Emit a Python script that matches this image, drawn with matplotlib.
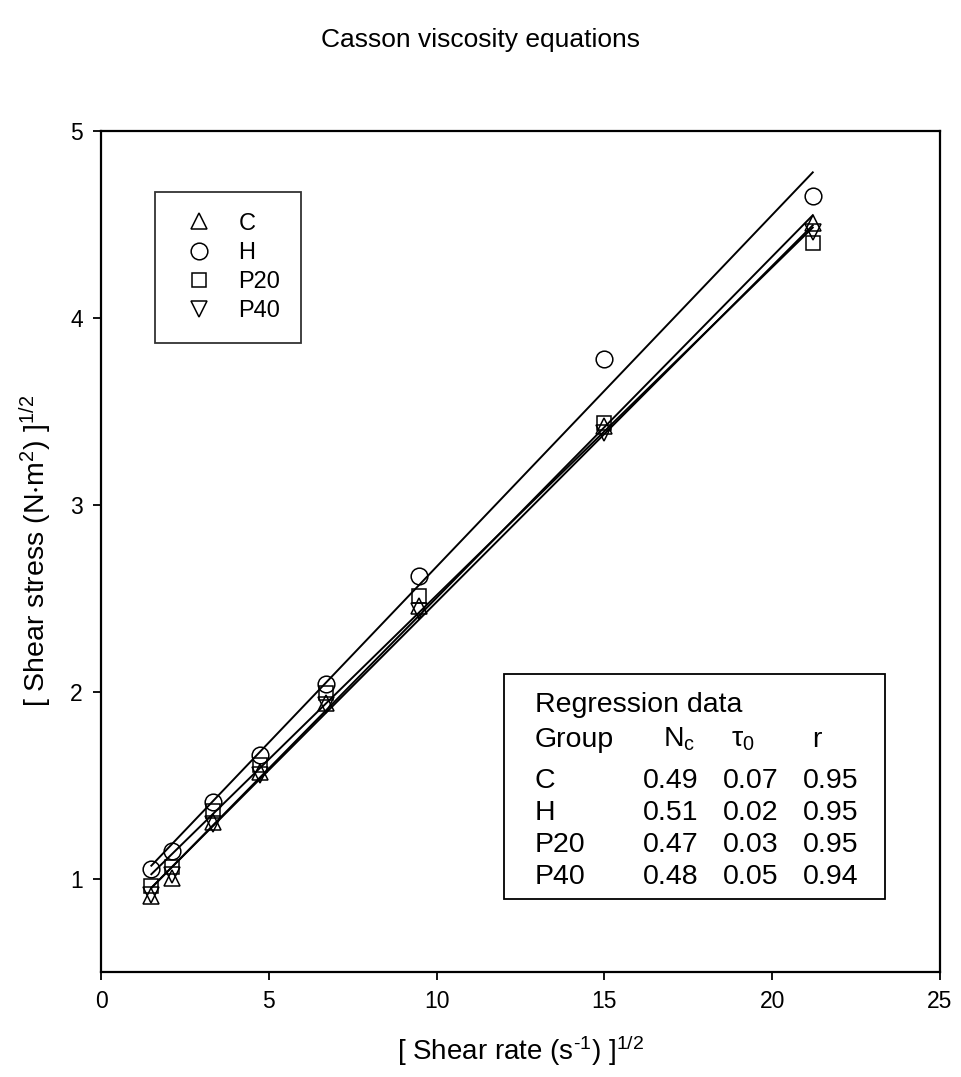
import numpy as np
import matplotlib
matplotlib.use("Agg")
import matplotlib.pyplot as plt
from matplotlib.patches import Rectangle

plt.rcParams['font.family'] = ['Liberation Sans', 'DejaVu Sans']
plt.rcParams['mathtext.fontset'] = 'custom'
plt.rcParams['mathtext.rm'] = 'Liberation Sans'
plt.rcParams['mathtext.it'] = 'Liberation Sans'
plt.rcParams['mathtext.default'] = 'regular'

# ---- data ----
shear_rate_sqrt = [1.5, 2.12, 3.35, 4.74, 6.71, 9.49, 15.0, 21.21]
groups = ["C", "H", "P20", "P40"]
stress_C = [0.905, 1.005, 1.305, 1.57, 1.94, 2.46, 3.42, 4.51]
stress_H = [1.05, 1.15, 1.41, 1.66, 2.04, 2.62, 3.78, 4.65]
stress_P20 = [0.96, 1.06, 1.36, 1.61, 1.995, 2.51, 3.44, 4.40]
stress_P40 = [0.91, 1.02, 1.29, 1.555, 1.93, 2.43, 3.385, 4.46]

table_Nc = ["0.49", "0.51", "0.47", "0.48"]
table_tau0 = ["0.07", "0.02", "0.03", "0.05"]
table_r = ["0.95", "0.95", "0.95", "0.94"]

x_ticks = [0, 5, 10, 15, 20, 25]
y_ticks = [1, 2, 3, 4, 5]

series = [stress_C, stress_H, stress_P20, stress_P40]
markers = ['^', 'o', 's', 'v']
msizes = [12, 12, 10, 12]

fig = plt.figure(figsize=(9.61, 10.77), dpi=100)
ax = fig.add_axes([0.1051, 0.0975, 0.8730, 0.7809])

x = np.array(shear_rate_sqrt)
handles = []
for ys, mk, ms, g in zip(series, markers, msizes, groups):
    ys = np.array(ys)
    k, b = np.polyfit(x, ys, 1)
    xl = np.array([x.min(), x.max()])
    ax.plot(xl, k * xl + b, color='black', lw=1.4, zorder=2)
    h, = ax.plot(x, ys, linestyle='none', marker=mk, markersize=ms,
                 markerfacecolor='none', markeredgecolor='black',
                 markeredgewidth=1.1, label=g, zorder=3)
    handles.append(h)

ax.set_xlim(0, 25)
ax.set_ylim(0.5, 5)
ax.set_xticks(x_ticks)
ax.set_yticks(y_ticks)
ax.tick_params(direction='out', length=6, width=1.3, labelsize=16.5, pad=7,
               top=False, right=False)
for s in ax.spines.values():
    s.set_linewidth(1.6)

ax.set_xlabel("[ Shear rate (s$^{\u20101}$) ]$^{1/2}$", fontsize=20, labelpad=15)
ax.set_ylabel(r"[ Shear stress (N$\cdot$m$^2$) ]$^{1/2}$", fontsize=20.5, labelpad=12)

leg = ax.legend(handles=handles, loc='upper left',
                bbox_to_anchor=(0.0644, 0.9275), borderaxespad=0,
                fontsize=17, frameon=True, fancybox=False,
                borderpad=0.88, labelspacing=0.3, handlelength=1.95,
                handletextpad=0.7)
leg.get_frame().set_edgecolor('black')
leg.get_frame().set_linewidth(1.3)

# regression table box
bx0, bx1, by0, by1 = 0.4803, 0.9344, 0.0868, 0.3543
ax.add_patch(Rectangle((bx0, by0), bx1 - bx0, by1 - by0, transform=ax.transAxes,
                       facecolor='white', edgecolor='black', lw=1.3, zorder=4))

def px2ax(px, py):
    return ((px - 101) / 839.0, (972 - py) / 841.0)

fs = 20.5
def put(txt, px, py, **kw):
    xa, ya = px2ax(px, py)
    ax.text(xa, ya, txt, transform=ax.transAxes, fontsize=fs, ha='left',
            va='baseline', zorder=5, **kw)

put("Regression data", 535, 712)
put("Group", 535, 747)
put(r"N$_{\rm c}$", 663, 747)
put(r"τ$_0$", 731, 747)
put("r", 812, 747)
row_y = [788, 820, 852, 884]
for g, n, t, r, yy in zip(groups, table_Nc, table_tau0, table_r, row_y):
    put(g, 535, yy)
    put(n, 643, yy)
    put(t, 723, yy)
    put(r, 803, yy)

fig.text(0.5005, 0.963, "Casson viscosity equations", fontsize=19,
         ha='center', va='center')

fig.savefig("out.png", dpi=100)
